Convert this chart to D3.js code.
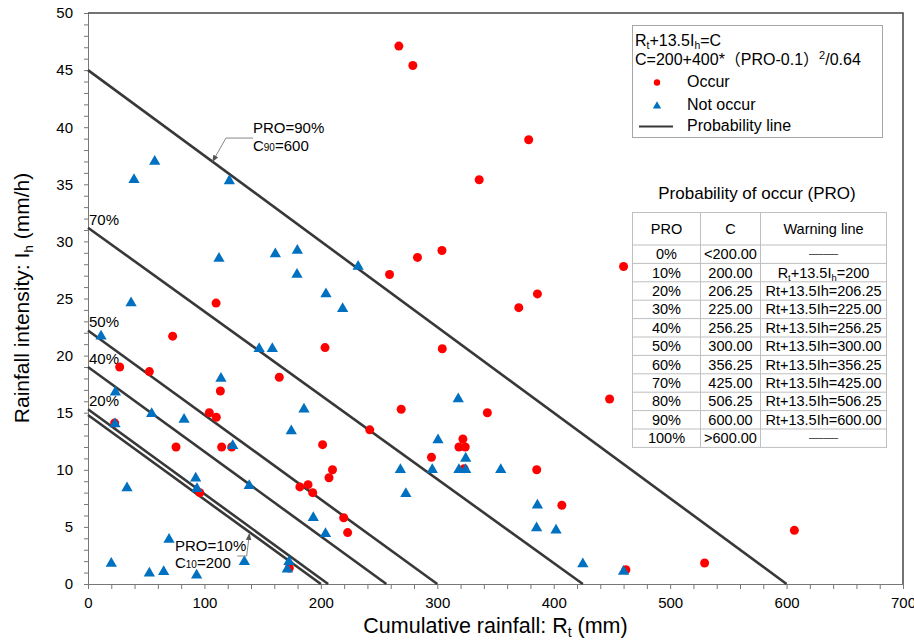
<!DOCTYPE html>
<html>
<head>
<meta charset="utf-8">
<script src="https://cdn.jsdelivr.net/npm/d3@7"></script>
<style>
  body { margin: 0; background: #fff; }
  svg { display: block; font-family: "Liberation Sans", Arial, "Noto Sans CJK SC", sans-serif; }
</style>
</head>
<body>
<div id="chart"><svg></svg></div>
<script>
// Occur (red) points: Rt (mm), Ih (mm/h)
const occurRt = [267, 279, 378.5, 336, 304, 283, 259, 386, 460, 448, 370, 203.6, 304.3, 269, 343, 242,
  201.5, 322, 318.6, 324, 295, 323, 385.4, 210, 207, 189, 182, 193, 407, 219.6, 223, 606.7, 529.6, 462,
  110, 72.7, 27.2, 52.7, 164.3, 113.7, 104.2, 110.2, 22.9, 75.6, 114.8, 123.4, 96, 172.9]
const occurIh = [47.1, 45.4, 38.9, 35.4, 29.2, 28.6, 27.1, 25.4, 27.8, 16.2, 24.2, 20.7, 20.6, 15.3, 15.0, 13.5,
  12.2, 12.7, 12.0, 12.0, 11.1, 10.1, 10.0, 10.0, 9.3, 8.7, 8.5, 8.0, 6.9, 5.8, 4.5, 4.7, 1.84, 1.25,
  24.6, 21.7, 19.0, 18.6, 18.1, 16.9, 15.0, 14.6, 14.1, 12.0, 12.0, 12.0, 8.0, 1.4]

// Not occur (blue) points
const notRt = [57.3, 39.5, 121.4, 112.5, 160.9, 179.8, 179.5, 37, 232, 204.4, 218.7, 185.5, 318, 300.6, 324.4,
  268.3, 295.7, 318.6, 324.4, 354.5, 273, 386, 193.5, 204, 385.3, 402, 425, 460, 11.2, 147, 158.3, 114.2,
  23.5, 54.7, 82.5, 23.2, 174.6, 124.3, 33.5, 92.5, 93.6, 138.5, 69.6, 20, 134.3, 52.7, 65, 93.3, 172.6, 171.2]
const notIh = [37.0, 35.4, 35.3, 28.5, 28.9, 29.2, 27.1, 24.6, 27.8, 25.4, 24.1, 15.3, 16.2, 12.6, 11.0,
  10.0, 10.0, 10.0, 10.0, 10.0, 7.9, 6.9, 5.8, 4.4, 4.9, 4.7, 1.75, 1.1, 21.7, 20.6, 20.6, 18.0,
  16.8, 14.9, 14.4, 14.0, 13.4, 12.1, 8.4, 9.25, 8.35, 8.6, 3.9, 1.8, 1.95, 0.94, 1.08, 0.76, 1.95, 1.29]

// probability lines: x-intercept (C) and y-intercept as drawn
const lineC = [200, 206.25, 256.25, 300, 425, 600]
const lineIh0 = [14.8, 15.3, 19.0, 22.2, 31.2, 45.0]
const lineLabels = ['', '20%', '40%', '50%', '70%', '']

const xTicks = d3.range(0, 701, 20)
const yTicks = d3.range(0, 51, 1)

// table
const proLabels = ['0%', '10%', '20%', '30%', '40%', '50%', '60%', '70%', '80%', '90%', '100%']
const cLabels = ['<200.00', '200.00', '206.25', '225.00', '256.25', '300.00', '356.25', '425.00', '506.25', '600.00', '>600.00']
const warnLabels = ['——', 'R_t+13.5I_h=200', 'Rt+13.5Ih=206.25', 'Rt+13.5Ih=225.00', 'Rt+13.5Ih=256.25',
  'Rt+13.5Ih=300.00', 'Rt+13.5Ih=356.25', 'Rt+13.5Ih=425.00', 'Rt+13.5Ih=506.25', 'Rt+13.5Ih=600.00', '——']

const margin = {top: 13, right: 11, bottom: 57, left: 88}
const W = 914, H = 641
const width = W - margin.left - margin.right
const height = H - margin.top - margin.bottom

const svg0 = d3.select('#chart svg').attr('width', W).attr('height', H)
const svg = svg0.append('g').attr('transform', 'translate(' + margin.left + ',' + margin.top + ')')

const x = d3.scaleLinear().domain([0, 700]).range([0, width])
const y = d3.scaleLinear().domain([0, 50]).range([height, 0])

// writes "R_t" style text with subscripts into a text element
function richText(sel, str, size) {
  let back = 0
  str.split(/(_\w)/).forEach(p => {
    if (!p) return
    if (p[0] === '_') {
      sel.append('tspan').attr('font-size', size * 0.65).attr('dy', size * 0.2).text(p[1])
      back = -size * 0.2
    } else {
      sel.append('tspan').attr('dy', back).text(p)
      back = 0
    }
  })
}

// axes
const xAxis = svg.append('g')
  .attr('transform', 'translate(0,' + height + ')')
  .call(d3.axisBottom(x).tickValues(xTicks).tickSize(5).tickPadding(8)
    .tickFormat(d => d % 100 === 0 ? d : ''))
xAxis.selectAll('text').attr('font-size', 15).attr('fill', '#000').style('font-family', 'inherit')

const yAxis = svg.append('g')
  .call(d3.axisLeft(y).tickValues(yTicks).tickSize(4).tickPadding(11)
    .tickFormat(d => d % 5 === 0 ? d : ''))
yAxis.selectAll('text').attr('font-size', 15).attr('fill', '#000').style('font-family', 'inherit')

svg.selectAll('.domain, .tick line').attr('stroke', '#777')

// frame top / right
svg.append('path')
  .attr('d', 'M0,0H' + width + 'V' + height)
  .attr('fill', 'none').attr('stroke', '#444').attr('stroke-width', 1.5)

// probability lines
svg.selectAll('.pline')
  .data(lineC)
  .join('line')
  .attr('x1', x(0)).attr('y1', (d, i) => y(lineIh0[i]))
  .attr('x2', d => x(d)).attr('y2', y(0))
  .attr('stroke', '#383838').attr('stroke-width', 2.6)

svg.selectAll('.plabel')
  .data(lineLabels)
  .join('text')
  .attr('x', x(0) + 1).attr('y', (d, i) => y(lineIh0[i]) - 3)
  .attr('font-size', 15).text(d => d)

// points
svg.selectAll('.occ')
  .data(occurRt)
  .join('circle')
  .attr('cx', d => x(d)).attr('cy', (d, i) => y(occurIh[i]))
  .attr('r', 4.5).attr('fill', '#ff0000')

const tri = d3.symbol().type(d3.symbolTriangle).size(55)
svg.selectAll('.not')
  .data(notRt)
  .join('path')
  .attr('d', tri)
  .attr('transform', (d, i) => 'translate(' + x(d) + ',' + y(notIh[i]) + ')')
  .attr('fill', '#0070c0')

// annotations with arrows
svg0.append('defs').append('marker')
  .attr('id', 'arr').attr('viewBox', '0 0 10 10').attr('refX', 9).attr('refY', 5)
  .attr('markerWidth', 7).attr('markerHeight', 7).attr('orient', 'auto')
  .append('path').attr('d', 'M0,1L10,5L0,9Z').attr('fill', '#555')

const line = d3.line().x(d => x(d[0])).y(d => y(d[1]))
svg.append('path').datum([[141.7, 39.05], [118.5, 39.05], [107.1, 37.0]])
  .attr('d', line).attr('fill', 'none').attr('stroke', '#888').attr('stroke-width', 1)
  .attr('marker-end', 'url(#arr)')
svg.append('path').datum([[128.2, 2.45], [136.3, 2.45], [138.6, 4.4]])
  .attr('d', line).attr('fill', 'none').attr('stroke', '#888').attr('stroke-width', 1)
  .attr('marker-end', 'url(#arr)')

function annot(px, py, big, sub, rest) {
  const t = svg.append('text').attr('x', x(px)).attr('y', y(py)).attr('font-size', 15)
  t.append('tspan').text(big)
  if (sub) {
    t.append('tspan').attr('font-size', 10).text(sub)
    t.append('tspan').text(rest)
  }
}
annot(141.7, 39.45, 'PRO=90%')
annot(141.7, 37.95, 'C', '90', '=600')
annot(74.7, 2.85, 'PRO=10%')
annot(74.7, 1.38, 'C', '10', '=200')

// axis titles
const xt = svg0.append('text').attr('x', margin.left + width / 2).attr('y', 633)
  .attr('text-anchor', 'middle').attr('font-size', 21.5)
richText(xt, 'Cumulative rainfall: R_t (mm)', 21.5)

const yt = svg0.append('text').attr('transform', 'translate(29,298) rotate(-90)')
  .attr('text-anchor', 'middle').attr('font-size', 21)
richText(yt, 'Rainfall intensity: I_h (mm/h)', 21)

// legend
const lg = svg0.append('g')
lg.append('rect').attr('x', 632.5).attr('y', 25.5).attr('width', 250).attr('height', 112)
  .attr('fill', '#fff').attr('stroke', '#a6a6a6')
richText(lg.append('text').attr('x', 635).attr('y', 46).attr('font-size', 16), 'R_t+13.5I_h=C', 16)
const l2 = lg.append('text').attr('x', 635).attr('y', 65).attr('font-size', 16)
l2.append('tspan').text('C=200+400*（PRO-0.1）')
l2.append('tspan').attr('font-size', 11).attr('dy', -6).text('2')
l2.append('tspan').attr('dy', 6).text('/0.64')
lg.append('circle').attr('cx', 657).attr('cy', 82.5).attr('r', 3.2).attr('fill', '#ff0000')
lg.append('text').attr('x', 687).attr('y', 87).attr('font-size', 16).text('Occur')
lg.append('path').attr('d', d3.symbol().type(d3.symbolTriangle).size(30))
  .attr('transform', 'translate(657,106)').attr('fill', '#0070c0')
lg.append('text').attr('x', 687).attr('y', 110).attr('font-size', 16).text('Not occur')
lg.append('line').attr('x1', 639).attr('x2', 673).attr('y1', 126.5).attr('y2', 126.5)
  .attr('stroke', '#383838').attr('stroke-width', 2)
lg.append('text').attr('x', 687).attr('y', 131).attr('font-size', 16).text('Probability line')

// table
const tb = svg0.append('g')
tb.append('text').attr('x', 757).attr('y', 199).attr('text-anchor', 'middle')
  .attr('font-size', 17).text('Probability of occur (PRO)')
const cols = [632.5, 700.5, 760.5, 886.5]
const top0 = 212.5, headH = 32.5, rowH = 18.4
const rowsY = proLabels.map((d, i) => top0 + headH + i * rowH)
tb.append('rect').attr('x', cols[0]).attr('y', top0).attr('width', cols[3] - cols[0])
  .attr('height', headH + rowH * proLabels.length).attr('fill', '#fff').attr('stroke', '#bfbfbf')
cols.slice(1, 3).forEach(c => tb.append('line').attr('x1', c).attr('x2', c).attr('y1', top0)
  .attr('y2', top0 + headH + rowH * proLabels.length).attr('stroke', '#bfbfbf'))
tb.selectAll('.hl').data(rowsY).join('line')
  .attr('x1', cols[0]).attr('x2', cols[3]).attr('y1', d => d).attr('y2', d => d).attr('stroke', '#bfbfbf')

const centers = [(cols[0] + cols[1]) / 2, (cols[1] + cols[2]) / 2, (cols[2] + cols[3]) / 2]
;['PRO', 'C', 'Warning line'].forEach((h, j) => tb.append('text').attr('x', centers[j])
  .attr('y', top0 + headH / 2 + 5).attr('text-anchor', 'middle').attr('font-size', 14.5).text(h))
proLabels.forEach((p, i) => {
  const yy = rowsY[i] + rowH / 2 + 5
  tb.append('text').attr('x', centers[0]).attr('y', yy).attr('text-anchor', 'middle').attr('font-size', 14.5).text(p)
  tb.append('text').attr('x', centers[1]).attr('y', yy).attr('text-anchor', 'middle').attr('font-size', 14.5).text(cLabels[i])
  const w = tb.append('text').attr('x', centers[2]).attr('y', yy).attr('text-anchor', 'middle').attr('font-size', 14.5)
  if (warnLabels[i] === '——') w.attr('fill', '#555').attr('y', yy - 1)
  richText(w, warnLabels[i], 14.5)
})
</script>
</body>
</html>
